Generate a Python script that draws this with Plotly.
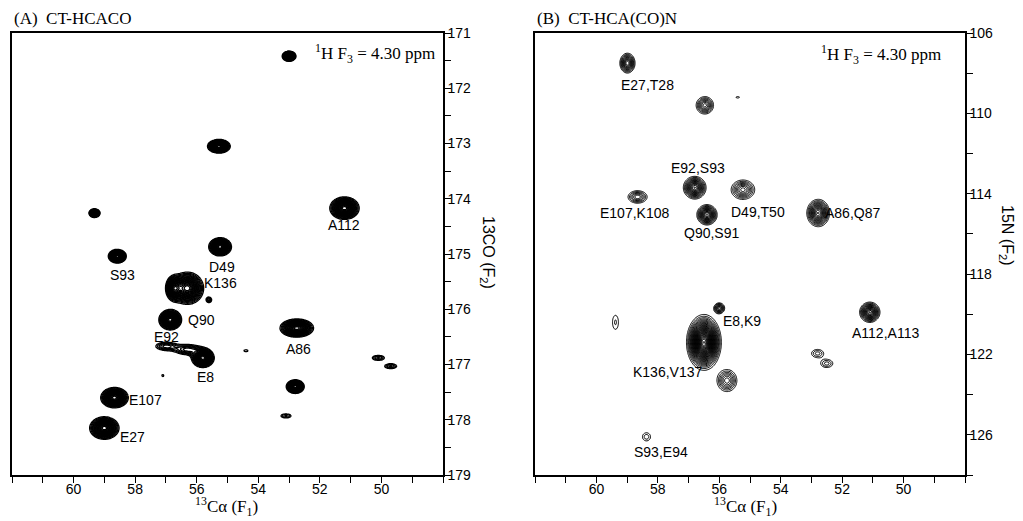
import numpy as np
import plotly.graph_objects as go

# ---------------- data: peak lists (ppm) ----------------
# Panel A: CT-HCACO  (13Ca, 13CO)
A_ca   = [53.0, 55.28, 59.32, 51.2, 55.24, 58.58, 56.3, 56.75, 55.6, 56.86, 57.0, 56.3, 55.8, 52.75, 52.8, 53.1, 50.1, 49.7, 58.67, 59.0, 54.4, 57.1]
A_co   = [171.42, 173.05, 174.26, 174.17, 174.87, 175.04, 175.62, 175.62, 175.83, 176.19, 176.67, 176.73, 176.88, 176.34, 177.4, 177.93, 176.88, 177.03, 177.6, 178.15, 176.75, 177.2]
A_lwca = [0.115, 0.19, 0.095, 0.245, 0.19, 0.15, 0.27, 0.14, 0.07, 0.19, 0.25, 0.29, 0.19, 0.28, 0.15, 0.16, 0.165, 0.165, 0.23, 0.245, 0.085, 0.04]
A_lwco = [0.048, 0.064, 0.042, 0.105, 0.085, 0.064, 0.15, 0.12, 0.04, 0.095, 0.056, 0.065, 0.09, 0.085, 0.064, 0.036, 0.038, 0.038, 0.095, 0.105, 0.024, 0.024]
A_amp  = [1, 1, 0.9, 1, 1, 1, 1, 0.7, 0.3, 1, 0.35, 0.4, 1, 1, 1, 0.25, 0.3, 0.3, 1, 1, 0.2, 0.2]

A_labels = ["A112", "D49", "S93", "K136", "Q90", "E92", "A86", "E8", "E107", "E27"]
A_lab_ca = [51.2, 55.18, 58.4, 55.24, 55.83, 56.99, 52.69, 55.73, 57.67, 58.09]
A_lab_co = [174.47, 175.24, 175.38, 175.52, 176.19, 176.5, 176.72, 177.23, 177.64, 178.31]

# Panel B: CT-HCA(CO)N  (13Ca, 15N)
B_ca   = [58.99, 56.47, 55.4, 56.8, 56.4, 55.23, 58.66, 52.78, 56.0, 59.38, 56.5, 55.75, 52.8, 52.5, 51.1, 58.37]
B_n    = [107.5, 109.6, 109.2, 113.7, 115.05, 113.8, 114.16, 114.96, 119.7, 120.4, 121.4, 123.3, 121.95, 122.45, 119.9, 126.1]
B_lwca = [0.135, 0.17, 0.08, 0.19, 0.17, 0.23, 0.2, 0.19, 0.105, 0.11, 0.245, 0.2, 0.166, 0.166, 0.17, 0.13]
B_lwn  = [0.27, 0.26, 0.05, 0.29, 0.26, 0.29, 0.2, 0.35, 0.16, 0.4, 0.6, 0.34, 0.17, 0.17, 0.26, 0.2]
B_amp  = [0.8, 0.6, 0.2, 1, 1, 0.6, 0.5, 1, 0.6, 0.22, 2.2, 0.55, 0.3, 0.3, 1, 0.25]

B_labels = ["E27,T28", "E92,S93", "E107,K108", "D49,T50", "Q90,S91", "A86,Q87", "E8,K9", "A112,A113", "K136,V137", "S93,E94"]
B_lab_ca = [58.33, 56.7, 58.76, 54.74, 56.24, 51.67, 55.26, 50.59, 57.68, 57.9]
B_lab_n  = [108.59, 112.72, 114.96, 114.9, 115.96, 114.96, 120.33, 120.93, 122.87, 126.85]

A_yticks = [171, 172, 173, 174, 175, 176, 177, 178, 179]
B_yticks = [106, 110, 114, 118, 122, 126]
x_ticks = [60, 58, 56, 54, 52, 50]

# page body has an 8px margin: the figure is drawn 8px in from the window corner
OFF = 8
W, H = 1023 - OFF, 521 - OFF
SANS = "Liberation Sans Narrow, Liberation Sans, Arial"
SERIF = "Liberation Serif, Times New Roman, serif"


def px(x):
    return (x - OFF) / W


def py(y):
    return 1 - (y - OFF) / H


def spectrum(cx, cy, sx, sy, amp, xs, ys):
    X, Y = np.meshgrid(xs, ys)
    Z = np.zeros_like(X)
    for x0, y0, a, b, A in zip(cx, cy, sx, sy, amp):
        Z += A * np.exp(-((X - x0) ** 2 / (2 * a * a) + (Y - y0) ** 2 / (2 * b * b)))
    return Z.astype(np.float32)


xsA = np.arange(48.0, 62.0001, 0.03)
ysA = np.arange(171.0, 179.0001, 0.015)
xsB = np.arange(48.0, 62.0001, 0.03)
ysB = np.arange(106.0, 128.0001, 0.04)

ZA = spectrum(A_ca, A_co, A_lwca, A_lwco, A_amp, xsA, ysA)
ZB = spectrum(B_ca, B_n, B_lwca, B_lwn, B_amp, xsB, ysB)

fig = go.Figure()
fig.add_trace(go.Contour(x=xsA, y=ysA, z=ZA,
                         contours=dict(coloring="none", start=0.15, end=3.0, size=0.045),
                         line=dict(color="black", width=1.3),
                         showscale=False, hoverinfo="skip", xaxis="x", yaxis="y"))
fig.add_trace(go.Contour(x=xsB, y=ysB, z=ZB,
                         contours=dict(coloring="none", start=0.15, end=3.0, size=0.06),
                         line=dict(color="black", width=1.0),
                         showscale=False, hoverinfo="skip", xaxis="x2", yaxis="y2"))

ax_common = dict(showline=True, linecolor="black", linewidth=1.5, mirror=True, ticks="outside",
                 ticklen=6, tickwidth=1, tickcolor="black", showgrid=False, zeroline=False,
                 automargin=False, ticklabelstandoff=-6,
                 tickfont=dict(family=SANS, size=14, color="black"))
xdom_A = [px(12), px(443)]
xdom_B = [px(535), px(965)]
ydom = [py(475), py(33)]

fig.update_layout(
    width=W, height=H, margin=dict(l=0, r=0, t=0, b=0, autoexpand=False),
    paper_bgcolor="white", plot_bgcolor="white", showlegend=False,
    xaxis=dict(domain=xdom_A, range=[62, 48], anchor="y", tickvals=x_ticks,
               minor=dict(dtick=1, tick0=49, ticks="outside", ticklen=6, tickcolor="black"), **ax_common),
    yaxis=dict(domain=ydom, range=[179, 171], anchor="x", side="right", tickvals=A_yticks,
               minor=dict(dtick=0.5, tick0=171, ticks="outside", ticklen=6, tickcolor="black"), **ax_common),
    xaxis2=dict(domain=xdom_B, range=[62, 48], anchor="y2", tickvals=x_ticks,
                minor=dict(dtick=1, tick0=49, ticks="outside", ticklen=6, tickcolor="black"), **ax_common),
    yaxis2=dict(domain=ydom, range=[128, 106], anchor="x2", side="right", tickvals=B_yticks,
                minor=dict(dtick=2, tick0=106, ticks="outside", ticklen=6, tickcolor="black"), **ax_common),
)

ann = []
for t, x, y in zip(A_labels, A_lab_ca, A_lab_co):
    ann.append(dict(text=t, x=x, y=y, xref="x", yref="y", showarrow=False,
                    font=dict(family=SANS, size=14, color="black")))
for t, x, y in zip(B_labels, B_lab_ca, B_lab_n):
    ann.append(dict(text=t, x=x, y=y, xref="x2", yref="y2", showarrow=False,
                    font=dict(family=SANS, size=14, color="black")))

serif = dict(family=SERIF, size=17, color="black")
ann += [
    dict(text="(A)  CT-HCACO", x=px(12), y=py(18), xref="paper", yref="paper", xanchor="left",
         yanchor="middle", showarrow=False, font=serif),
    dict(text="(B)  CT-HCA(CO)N", x=px(535), y=py(18), xref="paper", yref="paper", xanchor="left",
         yanchor="middle", showarrow=False, font=serif),
    dict(text="<sup>1</sup>H F<sub>3</sub> = 4.30 ppm", x=px(437), y=py(53), xref="paper", yref="paper",
         xanchor="right", yanchor="middle", showarrow=False, font=serif),
    dict(text="<sup>1</sup>H F<sub>3</sub> = 4.30 ppm", x=px(943), y=py(55), xref="paper", yref="paper",
         xanchor="right", yanchor="middle", showarrow=False, font=serif),
    dict(text="<sup>13</sup>Cα (F<sub>1</sub>)", x=px(226), y=py(506), xref="paper", yref="paper",
         xanchor="center", yanchor="middle", showarrow=False, font=serif),
    dict(text="<sup>13</sup>Cα (F<sub>1</sub>)", x=px(745), y=py(506), xref="paper", yref="paper",
         xanchor="center", yanchor="middle", showarrow=False, font=serif),
    dict(text="13CO (F<sub>2</sub>)", x=px(488), y=py(252), xref="paper", yref="paper", textangle=90,
         xanchor="center", yanchor="middle", showarrow=False, font=dict(family=SANS, size=16, color="black")),
    dict(text="15N (F<sub>2</sub>)", x=px(1006), y=py(235), xref="paper", yref="paper", textangle=90,
         xanchor="center", yanchor="middle", showarrow=False, font=dict(family=SANS, size=16, color="black")),
]
fig.update_layout(annotations=ann)

fig.write_html("out.html")
